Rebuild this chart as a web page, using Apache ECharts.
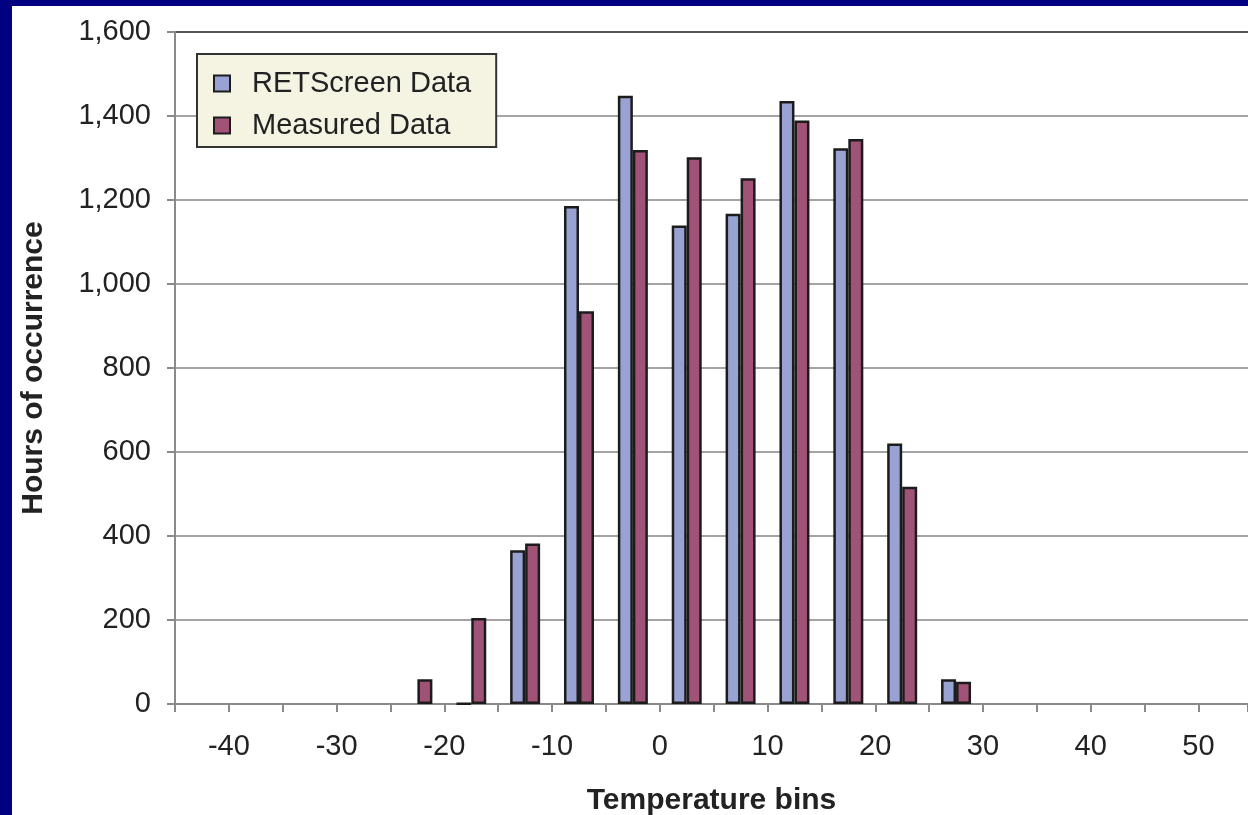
<!DOCTYPE html>
<html>
<head>
<meta charset="utf-8">
<script src="https://cdn.jsdelivr.net/npm/echarts@6/dist/echarts.min.js"></script>
<style>
  html, body { margin: 0; padding: 0; width: 1248px; height: 815px; background: #000080; overflow: hidden; }
  #chart { position: absolute; left: 12px; top: 6px; width: 1236px; height: 809px; background: #ffffff; }
</style>
</head>
<body>
<div id="chart"></div>
<script>
// Bin centres (°C) and hours of occurrence
const bins = [-22.5, -17.5, -12.5, -7.5, -2.5, 2.5, 7.5, 12.5, 17.5, 22.5, 27.5];
const retscreen = [null, 1, 366, 1186, 1448, 1139, 1167, 1436, 1323, 620, 59];
const measured = [59, 205, 382, 935, 1319, 1302, 1252, 1389, 1345, 517, 53];
const seriesNames = ['RETScreen Data', 'Measured Data'];
const yTicks = [0, 200, 400, 600, 800, 1000, 1200, 1400, 1600];

const font = '"Liberation Sans", Arial, Helvetica, sans-serif';
const chart = echarts.init(document.getElementById('chart'));

function pairs(vals) {
  return bins.map((b, i) => vals[i] == null ? null : [b, vals[i]]).filter(d => d);
}

const gridColors = yTicks.map((t, i) => i === yTicks.length - 1 ? '#555555' : '#a3a3a3');

chart.setOption({
  animation: false,
  backgroundColor: '#ffffff',
  textStyle: { fontFamily: font },
  grid: { left: 163, top: 26, right: 0, bottom: 111, containLabel: false, outerBoundsMode: 'none' },
  legend: {
    orient: 'vertical',
    left: 185, top: 48,
    data: seriesNames,
    icon: 'rect',
    backgroundColor: '#f5f3e2',
    borderColor: '#333333',
    borderWidth: 2,
    borderRadius: 0,
    padding: [15, 25, 7, 16],
    itemGap: 13,
    itemWidth: 16,
    itemHeight: 16,
    textStyle: { fontFamily: font, fontSize: 29, color: '#222222', padding: [0, 0, 0, 17] }
  },
  xAxis: {
    type: 'value',
    min: -45, max: 54.6, interval: 5,
    name: 'Temperature bins',
    nameLocation: 'middle',
    nameGap: 82,
    nameTextStyle: { fontFamily: font, fontSize: 30, fontWeight: 'bold', color: '#222222' },
    axisLine: { show: true, onZero: false, lineStyle: { color: '#8a8a8a', width: 2 } },
    axisTick: { show: true, inside: false, length: 8, lineStyle: { color: '#8a8a8a', width: 2 } },
    axisLabel: {
      margin: 28, fontSize: 29, color: '#222222', fontFamily: font,
      formatter: v => (v % 10 === 0 && v > -45 && v < 55) ? String(v) : ''
    },
    splitLine: { show: false }
  },
  yAxis: {
    type: 'value',
    min: 0, max: 1600, interval: 200,
    name: 'Hours of occurrence',
    nameLocation: 'middle',
    nameGap: 126,
    nameTextStyle: { fontFamily: font, fontSize: 30, fontWeight: 'bold', color: '#222222' },
    axisLine: { show: true, onZero: false, lineStyle: { color: '#8a8a8a', width: 2 } },
    axisTick: { show: true, length: 8, lineStyle: { color: '#8a8a8a', width: 2 } },
    axisLabel: {
      margin: 24, fontSize: 29, color: '#222222', fontFamily: font,
      formatter: v => v.toLocaleString('en-US')
    },
    splitLine: { show: true, lineStyle: { color: gridColors, width: 2 } }
  },
  series: [
    {
      name: seriesNames[0], type: 'bar', data: pairs(retscreen),
      barWidth: 15, barGap: '0%',
      itemStyle: { color: '#98a3d3', borderColor: '#1c1c1c', borderWidth: 2.5 }
    },
    {
      name: seriesNames[1], type: 'bar', data: pairs(measured),
      barWidth: 15, barGap: '0%',
      itemStyle: { color: '#a15277', borderColor: '#1c1c1c', borderWidth: 2.5 }
    }
  ]
});
</script>
</body>
</html>
